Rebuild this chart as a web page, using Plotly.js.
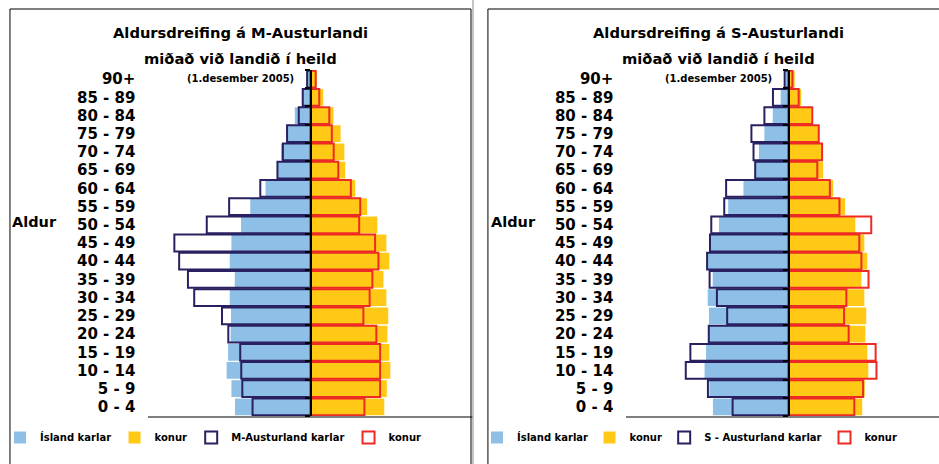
<!DOCTYPE html>
<html><head><meta charset="utf-8">
<script src="https://cdn.plot.ly/plotly-3.0.1.min.js"></script>
<style>html,body{margin:0;padding:0;background:#fff}#chart{width:939px;height:464px}</style>
</head><body><div id="chart"></div>
<script>
// Age groups (bottom to top)
const ageGroups = ['0 - 4','5 - 9','10 - 14','15 - 19','20 - 24','25 - 29','30 - 34','35 - 39','40 - 44','45 - 49','50 - 54','55 - 59','60 - 64','65 - 69','70 - 74','75 - 79','80 - 84','85 - 89','90+'];

// Share of population (%)
const islandKarlar = [3.62,3.79,4.02,3.95,3.83,3.81,3.87,3.63,3.87,3.79,3.33,2.89,2.16,1.60,1.42,1.16,0.76,0.38,0.14];
const islandKonur  = [3.52,3.64,3.81,3.76,3.67,3.71,3.62,3.48,3.76,3.62,3.19,2.70,2.13,1.65,1.61,1.43,1.09,0.60,0.29];

const mAustKarlar = [2.78,3.27,3.32,3.37,3.94,4.24,5.57,5.87,6.29,6.52,4.97,3.90,2.41,1.59,1.33,1.13,0.57,0.38,0.17];
const mAustKonur  = [2.57,3.32,3.32,3.32,3.14,2.52,2.82,2.95,3.24,3.08,2.32,2.37,1.92,1.32,1.10,1.01,0.89,0.41,0.24];

const sAustKarlar = [2.68,3.86,4.92,4.70,3.82,2.94,3.43,3.78,3.90,3.76,3.70,3.08,2.99,1.60,1.68,1.78,1.16,0.75,0.19];
const sAustKonur  = [3.14,3.56,4.20,4.16,2.87,2.65,2.76,3.82,3.48,3.38,3.95,2.43,1.97,1.37,1.60,1.44,1.13,0.48,0.18];

const titles1 = ['Aldursdreifing á M-Austurlandi','miðað við landið í heild'];
const titles2 = ['Aldursdreifing á S-Austurlandi','miðað við landið í heild'];
const dateNote = '(1.desember 2005)';
const axisLabel = 'Aldur';
const legendNames1 = ['Ísland karlar','konur','M-Austurland karlar','konur'];
const legendNames2 = ['Ísland karlar','konur','S - Austurland karlar','konur'];

const BLUE = '#8DBFE7', YELLOW = '#FFC916', NAVY = '#282060', RED = '#EE2A24';
const FONT = 'DejaVu Sans, Verdana, sans-serif';
const neg = a => a.map(v => -v);

const W = 939, H = 464;
const px = v => v / W, py = v => (H - v) / H;

function fillBar(names, vals, col, xa, ya, leg) {
  return {type:'bar', orientation:'h', y:ageGroups, x:vals, name:names, xaxis:xa, yaxis:ya,
    marker:{color:col, line:{width:0}}, hoverinfo:'skip', legend:leg};
}
function lineBar(names, vals, col, xa, ya, leg) {
  return {type:'bar', orientation:'h', y:ageGroups, x:vals, name:names, xaxis:xa, yaxis:ya,
    marker:{color:'rgba(0,0,0,0)', line:{width:2, color:col}}, hoverinfo:'skip', legend:leg};
}

const traces = [
  fillBar(legendNames1[0], neg(islandKarlar), BLUE, 'x', 'y', 'legend'),
  fillBar(legendNames1[1], islandKonur, YELLOW, 'x', 'y', 'legend2'),
  lineBar(legendNames1[2], neg(mAustKarlar), NAVY, 'x', 'y2', 'legend3'),
  lineBar(legendNames1[3], mAustKonur, RED, 'x', 'y2', 'legend4'),
  fillBar(legendNames2[0], neg(islandKarlar), BLUE, 'x2', 'y3', 'legend5'),
  fillBar(legendNames2[1], islandKonur, YELLOW, 'x2', 'y3', 'legend6'),
  lineBar(legendNames2[2], neg(sAustKarlar), NAVY, 'x2', 'y4', 'legend7'),
  lineBar(legendNames2[3], sAustKonur, RED, 'x2', 'y4', 'legend8')
];

const yDom = [py(416), py(70)];
const xDom1 = [px(145), px(471)];
const xDom2 = [px(625), 1];
const SCALE = 21; // px per %
const xr1 = [-163/SCALE, 163/SCALE];
const xr2 = [-163/SCALE, 151/SCALE];

function xAxis(dom, rng, anchor) {
  return {domain:dom, range:rng, anchor:anchor, showticklabels:false, showgrid:false, zeroline:false,
    showline:true, linecolor:'#7f7f7f', linewidth:1.5, ticks:'', fixedrange:true};
}
function yMain(anchor) {
  return {domain:yDom, anchor:anchor, type:'category', categoryorder:'array', categoryarray:ageGroups,
    range:[-0.5, 18.5], showline:false, showgrid:false, zeroline:false, ticks:'',
    tickfont:{family:FONT, size:15, color:'#000', weight:'bold'}, ticklabelstandoff:12, fixedrange:true};
}
function yOver(over, pos) {
  return {domain:yDom, overlaying:over, anchor:'free', position:pos, type:'category', categoryorder:'array',
    categoryarray:ageGroups, range:[-0.5, 18.5], showline:true, linecolor:'#000', linewidth:2,
    ticks:'outside', ticklen:5, tickwidth:2, tickcolor:'#000', tickson:'boundaries',
    showticklabels:false, showgrid:false, zeroline:false, side:'left', fixedrange:true};
}

const legendBase = (xpx) => ({x:px(xpx), xanchor:'left', y:py(437.5), yanchor:'middle', orientation:'h',
  bgcolor:'rgba(0,0,0,0)', borderwidth:0, itemwidth:30, font:{family:FONT, size:10, color:'#000', weight:'bold'}});

const ann = [];
function titleAnn(cx, lines) {
  ann.push({text:'<b>'+lines[0]+'</b>', x:px(cx), y:py(33), xref:'paper', yref:'paper', showarrow:false,
    xanchor:'center', yanchor:'middle', font:{family:FONT, size:14.7, color:'#000'}});
  ann.push({text:'<b>'+lines[1]+'</b>', x:px(cx), y:py(58), xref:'paper', yref:'paper', showarrow:false,
    xanchor:'center', yanchor:'middle', font:{family:FONT, size:14.7, color:'#000'}});
  ann.push({text:'<b>'+dateNote+'</b>', x:px(cx), y:py(78), xref:'paper', yref:'paper', showarrow:false,
    xanchor:'center', yanchor:'middle', font:{family:FONT, size:10, color:'#000'}});
}
titleAnn(238, titles1);
titleAnn(718, titles2);
ann.push({text:'<b>'+axisLabel+'</b>', x:px(6), y:py(222), xref:'paper', yref:'paper', showarrow:false,
  xanchor:'left', yanchor:'middle', font:{family:FONT, size:14.5, color:'#000'}});
ann.push({text:'<b>'+axisLabel+'</b>', x:px(487), y:py(222), xref:'paper', yref:'paper', showarrow:false,
  xanchor:'left', yanchor:'middle', font:{family:FONT, size:14.5, color:'#000'}});

const shapes = [
  {type:'rect', xref:'paper', yref:'paper', x0:px(6), x1:px(469), y0:-0.2, y1:py(9), line:{color:'#000', width:1}},
  {type:'rect', xref:'paper', yref:'paper', x0:px(486), x1:1.2, y0:-0.2, y1:py(9), line:{color:'#000', width:1}},
  {type:'line', xref:'paper', yref:'paper', x0:px(471), x1:px(471), y0:0, y1:1, line:{color:'#b0b0b0', width:1.5}}
];

const layout = {
  width:W, height:H, margin:{l:0, r:0, t:0, b:0}, paper_bgcolor:'#fff', plot_bgcolor:'rgba(0,0,0,0)',
  barmode:'overlay', bargap:0.08, showlegend:true,
  xaxis:xAxis(xDom1, xr1, 'y'),
  xaxis2:xAxis(xDom2, xr2, 'y3'),
  yaxis:yMain('x'),
  yaxis2:yOver('y', (xDom1[0]+xDom1[1])/2),
  yaxis3:yMain('x2'),
  yaxis4:yOver('y3', px(788)),
  legend:legendBase(-4), legend2:legendBase(111), legend3:legendBase(188), legend4:legendBase(346),
  legend5:legendBase(475), legend6:legendBase(588), legend7:legendBase(663), legend8:legendBase(824),
  annotations:ann, shapes:shapes
};

Plotly.newPlot('chart', traces, layout, {displayModeBar:false, staticPlot:true});
</script></body></html>
